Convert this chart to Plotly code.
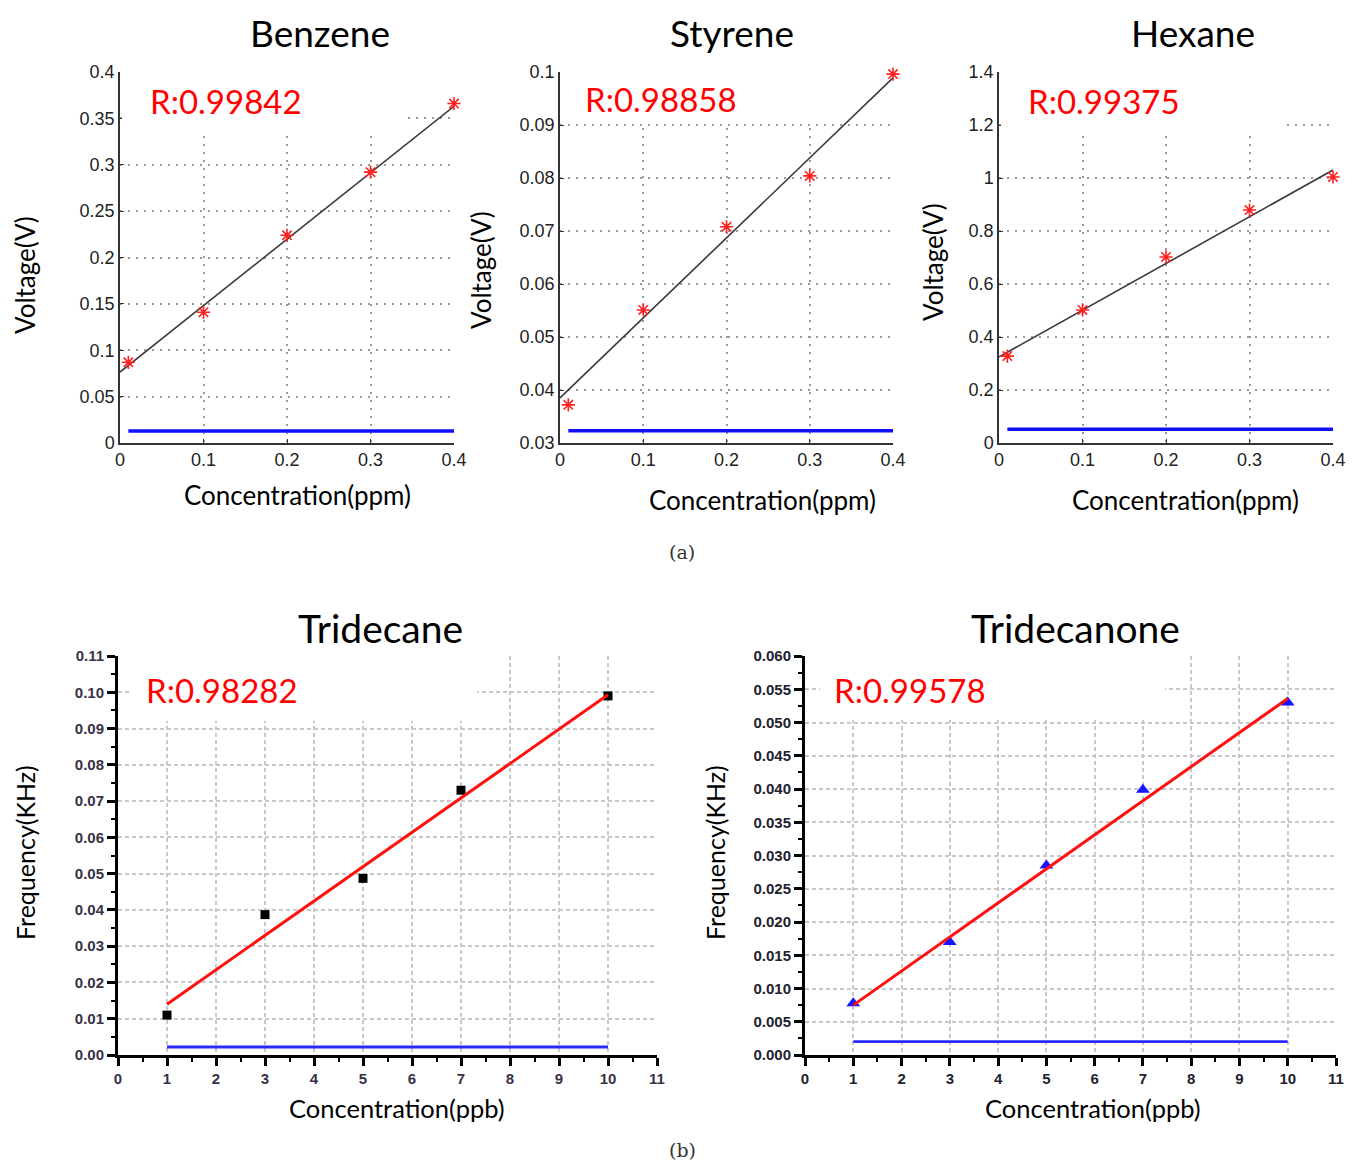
import plotly.graph_objects as go

# page is 1355x1169; the browser body keeps an 8px margin, so the figure fills the rest
PAGE_W, PAGE_H = 1355, 1169
OFF = 8
W, H = PAGE_W - 2 * OFF, PAGE_H - 2 * OFF

# ---------------- data ----------------
names = ["Benzene", "Styrene", "Hexane", "Tridecane", "Tridecanone"]
r_labels = ["R:0.99842", "R:0.98858", "R:0.99375", "R:0.98282", "R:0.99578"]

ppm_x = [0.01, 0.1, 0.2, 0.3, 0.4]
benzene_y = [0.087, 0.141, 0.224, 0.292, 0.366]
styrene_y = [0.0372, 0.0551, 0.0708, 0.0804, 0.0996]
hexane_y = [0.328, 0.502, 0.702, 0.879, 1.004]

ppm_fit_x = [0.0, 0.4]
benzene_fit = [0.0765, 0.363]
styrene_fit = [0.0385, 0.0989]
hexane_fit = [0.325, 1.03]

ppm_base_x = [0.01, 0.4]
benzene_base = [0.013, 0.013]
styrene_base = [0.0323, 0.0323]
hexane_base = [0.052, 0.052]

ppb_x = [1, 3, 5, 7, 10]
tridecane_y = [0.0110, 0.0387, 0.0487, 0.0730, 0.0990]
tridecanone_y = [0.0078, 0.0170, 0.0285, 0.0399, 0.0530]

ppb_fit_x = [1, 10]
tridecane_fit = [0.0140, 0.0993]
tridecanone_fit = [0.0075, 0.0536]

ppb_base_x = [1, 10]
tridecane_base = [0.0022, 0.0022]
tridecanone_base = [0.0020, 0.0020]

# tick labels (top row)
ppm_xticks = [0, 0.1, 0.2, 0.3, 0.4]
ppm_xtext = ["0", "0.1", "0.2", "0.3", "0.4"]
benzene_yticks = [0, 0.05, 0.1, 0.15, 0.2, 0.25, 0.3, 0.35, 0.4]
benzene_ytext = ["0", "0.05", "0.1", "0.15", "0.2", "0.25", "0.3", "0.35", "0.4"]
styrene_yticks = [0.03, 0.04, 0.05, 0.06, 0.07, 0.08, 0.09, 0.1]
styrene_ytext = ["0.03", "0.04", "0.05", "0.06", "0.07", "0.08", "0.09", "0.1"]
hexane_yticks = [0, 0.2, 0.4, 0.6, 0.8, 1.0, 1.2, 1.4]
hexane_ytext = ["0", "0.2", "0.4", "0.6", "0.8", "1", "1.2", "1.4"]

x_titles = ["Concentration(ppm)", "Concentration(ppm)", "Concentration(ppm)",
            "Concentration(ppb)", "Concentration(ppb)"]
y_titles = ["Voltage(V)", "Voltage(V)", "Voltage(V)", "Frequency(KHz)", "Frequency(KHz)"]
captions = ["(a)", "(b)"]

# ---------------- layout helpers (page pixel -> paper) ----------------
def px(x):
    return (x - OFF) / W

def py(y):
    return 1 - (y - OFF) / H

TITLE_FONT = "Lato, Open Sans, sans-serif"
TICK_FONT = "Liberation Sans, Arial, sans-serif"

# plot area page-pixel boxes: (left, right, top, bottom)
boxes = [
    (120, 454, 72, 443),
    (560, 893, 72, 443),
    (999, 1333, 72, 443),
    (118, 657, 656, 1055),
    (805, 1336, 656, 1055),
]

fig = go.Figure()

top_sets = [
    (benzene_y, benzene_fit, benzene_base, [0, 0.4], benzene_yticks, benzene_ytext),
    (styrene_y, styrene_fit, styrene_base, [0.03, 0.1], styrene_yticks, styrene_ytext),
    (hexane_y, hexane_fit, hexane_base, [0, 1.4], hexane_yticks, hexane_ytext),
]

layout_axes = {}
for i, (yv, fit, base, yr, yt, ytt) in enumerate(top_sets):
    n = i + 1
    xa = "x" if n == 1 else "x%d" % n
    ya = "y" if n == 1 else "y%d" % n
    fig.add_trace(go.Scatter(x=ppm_base_x, y=base, mode="lines",
                             line=dict(color="#1010ff", width=3.5),
                             xaxis=xa, yaxis=ya, showlegend=False, cliponaxis=False))
    fig.add_trace(go.Scatter(x=ppm_fit_x, y=fit, mode="lines",
                             line=dict(color="#3a3a3a", width=1.6),
                             xaxis=xa, yaxis=ya, showlegend=False, cliponaxis=False))
    fig.add_trace(go.Scatter(x=ppm_x, y=yv, mode="markers",
                             marker=dict(symbol="asterisk-open", size=11, color="#ff2020",
                                         line=dict(color="#ff2020", width=1.6)),
                             xaxis=xa, yaxis=ya, showlegend=False, cliponaxis=False))
    l, r, t, b = boxes[i]
    common = dict(showline=True, linecolor="#333333", linewidth=1.5,
                  ticks="inside", ticklen=4, tickcolor="#333333",
                  showgrid=True, gridcolor="#9a9a9a", griddash="2px,6px", gridwidth=1.5,
                  zeroline=False, automargin=False,
                  tickfont=dict(family=TICK_FONT, size=18, color="#222222"),
                  mirror=False)
    layout_axes["xaxis" if n == 1 else "xaxis%d" % n] = dict(
        domain=[px(l), px(r)], range=[0, 0.4], anchor=ya,
        tickmode="array", tickvals=ppm_xticks, ticktext=ppm_xtext, **common)
    layout_axes["yaxis" if n == 1 else "yaxis%d" % n] = dict(
        domain=[py(b), py(t)], range=yr, anchor=xa,
        tickmode="array", tickvals=yt, ticktext=ytt, **common)

bottom_sets = [
    (tridecane_y, tridecane_fit, tridecane_base, [0, 0.11], 0.01, ".2f", 0.005,
     dict(symbol="square", size=9, color="#000000"), "#3a3048"),
    (tridecanone_y, tridecanone_fit, tridecanone_base, [0, 0.06], 0.005, ".3f", 0.0025,
     dict(symbol="triangle-up", size=12, color="#1515ff"), "#22222e"),
]
for j, (yv, fit, base, yr, ydt, yfmt, yminor, mk, tcol) in enumerate(bottom_sets):
    n = j + 4
    xa = "x%d" % n
    ya = "y%d" % n
    fig.add_trace(go.Scatter(x=ppb_base_x, y=base, mode="lines",
                             line=dict(color="#2a2aff", width=2.8),
                             xaxis=xa, yaxis=ya, showlegend=False, cliponaxis=False))
    fig.add_trace(go.Scatter(x=ppb_x, y=yv, mode="markers", marker=mk,
                             xaxis=xa, yaxis=ya, showlegend=False, cliponaxis=False))
    fig.add_trace(go.Scatter(x=ppb_fit_x, y=fit, mode="lines",
                             line=dict(color="#ff1010", width=3),
                             xaxis=xa, yaxis=ya, showlegend=False, cliponaxis=False))
    l, r, t, b = boxes[n - 1]
    common = dict(showline=True, linecolor="#000000", linewidth=3,
                  ticks="outside", ticklen=8, tickwidth=2.5, tickcolor="#000000",
                  showgrid=True, gridcolor="#c8c8c8", griddash="4px,3px", gridwidth=2,
                  zeroline=False, automargin=False,
                  tickfont=dict(family=TICK_FONT, size=15, color=tcol, weight="bold"))
    layout_axes["xaxis%d" % n] = dict(
        domain=[px(l), px(r)], range=[0, 11], anchor=ya,
        tickmode="linear", tick0=0, dtick=1,
        minor=dict(ticks="outside", ticklen=4, tickwidth=2, tickcolor="#000000",
                   tick0=0, dtick=0.5, showgrid=False),
        **common)
    layout_axes["yaxis%d" % n] = dict(
        domain=[py(b), py(t)], range=yr, anchor=xa,
        tickmode="linear", tick0=0, dtick=ydt, tickformat=yfmt,
        minor=dict(ticks="outside", ticklen=4, tickwidth=2, tickcolor="#000000",
                   tick0=0, dtick=yminor, showgrid=False),
        **common)

fig.update_layout(**layout_axes)

# white boxes (page pixels) that hide the grid behind the R labels
mask_boxes = [
    (122, 66, 403, 130),
    (562, 66, 832, 122),
    (1001, 66, 1283, 130),
    (132, 652, 477, 721),
    (820, 652, 1165, 720),
]

ann = []
for (x0, y0, x1, y1) in mask_boxes:
    ann.append(dict(text=" ", x=px(x0), y=py(y0), xref="paper", yref="paper",
                    showarrow=False, xanchor="left", yanchor="top",
                    width=x1 - x0, height=y1 - y0, bgcolor="white",
                    borderpad=0, borderwidth=0, font=dict(size=10)))

# text annotations (page pixel centres)
title_pos = [(320, 32), (732, 32), (1193, 32), (380, 628), (1075, 628)]
r_pos = [(226, 101), (661, 99), (1104, 101), (222, 690), (910, 690)]
xl_pos = [(297, 495), (762, 500), (1185, 500), (397, 1108), (1093, 1108)]
yl_pos = [(25, 275), (481, 270), (933, 262), (25, 853), (715, 853)]
cap_pos = [(682, 552), (682, 1150)]
title_sizes = [37, 37, 37, 39, 39]
xl_sizes = [26, 26, 26, 25.5, 25.5]
yl_sizes = [26, 26, 26, 25, 25]

for k in range(5):
    ann.append(dict(text=names[k], x=px(title_pos[k][0]), y=py(title_pos[k][1]),
                    xref="paper", yref="paper", showarrow=False,
                    xanchor="center", yanchor="middle",
                    font=dict(family=TITLE_FONT, size=title_sizes[k], color="#000")))
    ann.append(dict(text=r_labels[k], x=px(r_pos[k][0]), y=py(r_pos[k][1]),
                    xref="paper", yref="paper", showarrow=False,
                    xanchor="center", yanchor="middle",
                    font=dict(family=TITLE_FONT, size=33, color="#ff0000")))
    ann.append(dict(text=x_titles[k], x=px(xl_pos[k][0]), y=py(xl_pos[k][1]),
                    xref="paper", yref="paper", showarrow=False,
                    xanchor="center", yanchor="middle",
                    font=dict(family=TITLE_FONT, size=xl_sizes[k], color="#000")))
    ann.append(dict(text=y_titles[k], x=px(yl_pos[k][0]), y=py(yl_pos[k][1]),
                    xref="paper", yref="paper", showarrow=False, textangle=-90,
                    xanchor="center", yanchor="middle",
                    font=dict(family=TITLE_FONT, size=yl_sizes[k], color="#000")))
for k in range(2):
    ann.append(dict(text=captions[k], x=px(cap_pos[k][0]), y=py(cap_pos[k][1]),
                    xref="paper", yref="paper", showarrow=False,
                    xanchor="center", yanchor="middle",
                    font=dict(family="DejaVu Serif, Liberation Serif, serif", size=19, color="#333")))

fig.update_layout(annotations=ann, width=W, height=H,
                  margin=dict(l=0, r=0, t=0, b=0, pad=0, autoexpand=False),
                  paper_bgcolor="white", plot_bgcolor="white",
                  showlegend=False)

fig.write_html("out.html", config={"displayModeBar": False})
